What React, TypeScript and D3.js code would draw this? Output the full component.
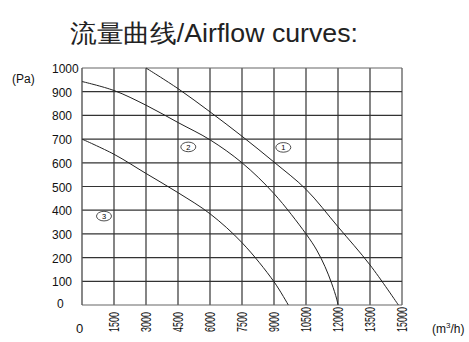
import React from "react";
import * as d3 from "d3";

const title = "流量曲线/Airflow curves:";
const xTicks = [1500, 3000, 4500, 6000, 7500, 9000, 10500, 12000, 13500, 15000];
const yTicks = [0, 100, 200, 300, 400, 500, 600, 700, 800, 900, 1000];

const curve1: [number, number][] = [
  [3000, 1000], [4500, 913], [6000, 815], [7500, 712], [9000, 603],
  [10500, 488], [12000, 330], [13500, 169], [14830, 0],
];
const curve2: [number, number][] = [
  [0, 943], [1500, 905], [3000, 843], [4500, 770], [6000, 697], [7500, 600],
  [9000, 470], [10500, 300], [11000, 232], [11390, 162], [11700, 92], [11940, 25], [12000, 0],
];
const curve3: [number, number][] = [
  [0, 700], [1500, 636], [3000, 555], [4500, 474], [6000, 385], [7500, 263],
  [9000, 98], [9670, 0],
];
const curveLabels = [
  { name: "1", x: 9436, y: 665 },
  { name: "2", x: 4983, y: 667 },
  { name: "3", x: 1031, y: 375 },
];

export default function App() {
  const W = 469, H = 342;
  const L = 82, R = 402, T = 68, B = 305;
  const x = d3.scaleLinear().domain([0, 15000]).range([L, R]);
  const y = d3.scaleLinear().domain([0, 1000]).range([B, T]);
  const line = d3.line<[number, number]>()
    .x(d => x(d[0])).y(d => y(d[1]))
    .curve(d3.curveCatmullRom.alpha(0.5));
  const font = "'Liberation Sans', Arial, sans-serif";
  return (
    <svg width={W} height={H} style={{ position: "absolute", left: 0, top: 0, background: "#fff" }}>
      <text x={70} y={42} fontSize={25} fontFamily={font} fill="#222"
        textLength={288} lengthAdjust="spacingAndGlyphs">{title}</text>
      {/* grid */}
      {xTicks.map(t => (
        <line key={"vx" + t} x1={x(t)} x2={x(t)} y1={T} y2={B}
          stroke={t === 15000 ? "#8a8a8a" : "#333"} strokeWidth={t === 15000 ? 1.8 : 1.2} />
      ))}
      {yTicks.map(t => (
        <line key={"hy" + t} x1={L} x2={R} y1={y(t)} y2={y(t)}
          stroke={t === 1000 || t === 0 ? "#666" : "#333"} strokeWidth={1.2} />
      ))}
      <line x1={L} x2={L} y1={T} y2={B} stroke="#555" strokeWidth={1.4} />
      {/* curves */}
      {[curve1, curve2, curve3].map((c, i) => (
        <path key={i} d={line(c) || ""} fill="none" stroke="#222" strokeWidth={1} />
      ))}
      {curveLabels.map(c => (
        <g key={c.name} transform={`translate(${x(c.x)},${y(c.y)})`}>
          <ellipse rx={7.5} ry={4.8} fill="#fff" stroke="#222" strokeWidth={0.8} />
          <text y={2.8} textAnchor="middle" fontSize={7.5} fontFamily={font}>{c.name}</text>
        </g>
      ))}
      {/* y labels */}
      {yTicks.map(t => (
        <text key={"yl" + t} x={t === 0 ? 57 : 52} y={y(t) + (t === 0 ? 3 : 5)} fontSize={12} fontFamily={font} fill="#111">
          {t}
        </text>
      ))}
      <text x={12} y={83} fontSize={12} fontFamily={font} fill="#111">(Pa)</text>
      {/* x labels */}
      <text x={76} y={333} fontSize={13} fontFamily={font} fill="#111">0</text>
      {xTicks.map(t => {
        const s = String(t);
        return (
          <text key={"xl" + t} transform={`translate(${x(t) + 5},332) rotate(-90)`}
            fontSize={14} fontFamily={font} fill="#111"
            textLength={s.length * 5} lengthAdjust="spacingAndGlyphs">
            {s}
          </text>
        );
      })}
      <text x={432} y={333} fontSize={12} fontFamily={font} fill="#111">
        (m<tspan dy={-5} fontSize={8}>3</tspan><tspan dy={5}>/h)</tspan>
      </text>
    </svg>
  );
}
